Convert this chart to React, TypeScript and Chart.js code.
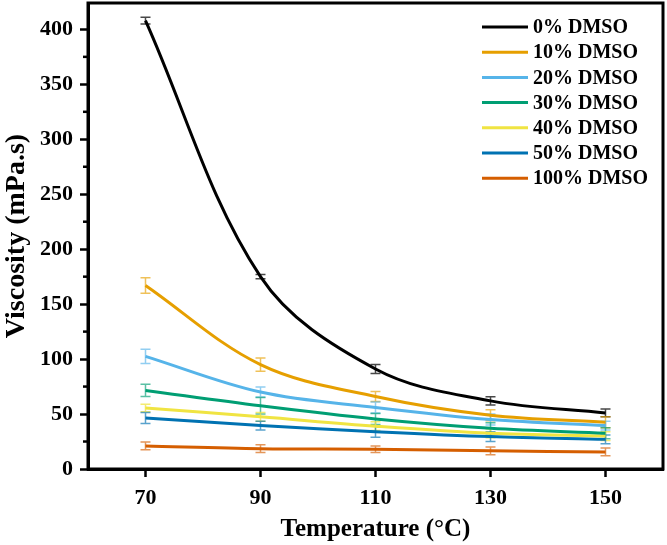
import { useEffect, useRef } from "react";
import { Chart, registerables } from "chart.js";

Chart.register(...registerables);

const temperatures = [70, 90, 110, 130, 150];
const xTicks = [70, 90, 110, 130, 150];
const yTicks = [0, 50, 100, 150, 200, 250, 300, 350, 400];
const yMinorTicks = [25, 75, 125, 175, 225, 275, 325, 375];

const seriesLabels = ["0% DMSO", "10% DMSO", "20% DMSO", "30% DMSO", "40% DMSO", "50% DMSO", "100% DMSO"];
const lineColors = ["#000000", "#E69F00", "#56B4E9", "#009E73", "#F0E442", "#0072B2", "#D55E00"];
const errorColors = [
  "rgba(40,40,40,0.85)",
  "rgba(230,159,0,0.65)",
  "rgba(86,180,233,0.65)",
  "rgba(0,158,115,0.65)",
  "rgba(240,228,66,0.75)",
  "rgba(0,114,178,0.65)",
  "rgba(213,94,0,0.65)",
];

const visc0 = [408, 175, 91, 62, 51];
const visc10 = [167, 95, 66, 49, 42.5];
const visc20 = [102.5, 70, 56, 45, 39.5];
const visc30 = [71.5, 57.5, 45.5, 37, 32.5];
const visc40 = [55.5, 47.5, 39, 32.5, 30];
const visc50 = [46.5, 39.5, 34, 29.5, 27];
const visc100 = [21, 18.5, 18, 16.5, 15.5];

const err0 = [3, 2, 4, 3.7, 3.5];
const err10 = [7, 6, 4.5, 5, 5];
const err20 = [6.5, 4.5, 5, 5, 4];
const err30 = [5.5, 7.5, 5, 5, 5];
const err40 = [3.5, 4, 4, 4, 4];
const err50 = [5, 4, 5, 4.5, 4];
const err100 = [3.5, 3.5, 3, 3.5, 3.5];

const seriesValues = [visc0, visc10, visc20, visc30, visc40, visc50, visc100];
const seriesErrors = [err0, err10, err20, err30, err40, err50, err100];

const FONT = "'Liberation Serif', 'Times New Roman', serif";

const errorBarPlugin = {
  id: "errorBars",
  beforeDatasetsDraw(chart: any) {
    const { ctx } = chart;
    const xs = chart.scales.x;
    const ys = chart.scales.y;
    ctx.save();
    ctx.lineWidth = 1.5;
    seriesValues.forEach((vals, i) => {
      ctx.strokeStyle = errorColors[i];
      vals.forEach((v, j) => {
        const e = seriesErrors[i][j];
        const x = xs.getPixelForValue(temperatures[j]);
        const yt = ys.getPixelForValue(v + e);
        const yb = ys.getPixelForValue(v - e);
        ctx.beginPath();
        ctx.moveTo(x, yt);
        ctx.lineTo(x, yb);
        ctx.moveTo(x - 5, yt);
        ctx.lineTo(x + 5, yt);
        ctx.moveTo(x - 5, yb);
        ctx.lineTo(x + 5, yb);
        ctx.stroke();
      });
    });
    ctx.restore();
  },
};

const framePlugin = {
  id: "frame",
  afterDraw(chart: any) {
    const { ctx, chartArea } = chart;
    const ys = chart.scales.y;
    ctx.save();
    ctx.strokeStyle = "#000";
    ctx.lineWidth = 3;
    ctx.strokeRect(chartArea.left, chartArea.top, chartArea.right - chartArea.left, chartArea.bottom - chartArea.top);
    // minor ticks on y
    ctx.lineWidth = 2.5;
    yMinorTicks.forEach((v) => {
      const y = ys.getPixelForValue(v);
      ctx.beginPath();
      ctx.moveTo(chartArea.left - 5, y);
      ctx.lineTo(chartArea.left, y);
      ctx.stroke();
    });
    // legend
    const lx = chartArea.right - 181;
    const ly0 = chartArea.top + 24;
    ctx.font = `bold 20px ${FONT}`;
    ctx.textBaseline = "middle";
    ctx.textAlign = "left";
    chart.data.datasets.forEach((ds: any, i: number) => {
      const y = ly0 + i * 25.2;
      ctx.strokeStyle = ds.borderColor;
      ctx.lineWidth = 3;
      ctx.beginPath();
      ctx.moveTo(lx, y);
      ctx.lineTo(lx + 46, y);
      ctx.stroke();
      ctx.fillStyle = "#000";
      ctx.fillText(ds.label, lx + 51, y + 1);
    });
    ctx.restore();
  },
};

const zeroPadding = (scale: any) => {
  scale.paddingTop = 0;
  scale.paddingBottom = 0;
  scale.paddingLeft = 0;
  scale.paddingRight = 0;
};

export default function App() {
  const ref = useRef<HTMLCanvasElement | null>(null);
  useEffect(() => {
    if (!ref.current) return;
    const chart = new Chart(ref.current, {
      type: "line",
      data: {
        datasets: seriesValues.map((vals, i) => ({
          label: seriesLabels[i],
          data: vals.map((v, j) => ({ x: temperatures[j], y: v })),
          borderColor: lineColors[i],
          backgroundColor: lineColors[i],
          borderWidth: 3,
          pointRadius: 0,
          tension: 0.35,
          fill: false,
        })),
      },
      plugins: [errorBarPlugin, framePlugin],
      options: {
        animation: false,
        responsive: false,
        devicePixelRatio: 1,
        layout: { padding: { top: 3, right: 4, left: 0, bottom: 0 } },
        plugins: { legend: { display: false }, tooltip: { enabled: false } },
        scales: {
          x: {
            type: "linear",
            min: 60,
            max: 160,
            afterBuildTicks: (scale: any) => {
              scale.ticks = xTicks.map((v) => ({ value: v }));
            },
            afterFit: (scale: any) => {
              scale.height = 76;
              zeroPadding(scale);
            },
            grid: { drawOnChartArea: false, drawTicks: true, tickLength: 8, tickWidth: 2.5, tickColor: "#000" },
            border: { display: true, width: 3, color: "#000" },
            ticks: { color: "#000", padding: 8, font: { family: FONT, size: 22, weight: "bold" }, maxRotation: 0 },
            title: {
              display: true,
              text: "Temperature (°C)",
              color: "#000",
              font: { family: FONT, size: 25, weight: "bold" },
              padding: { top: 0, bottom: 0 },
            },
          },
          y: {
            type: "linear",
            min: 0,
            max: 424,
            afterBuildTicks: (scale: any) => {
              scale.ticks = yTicks.map((v) => ({ value: v }));
            },
            afterFit: (scale: any) => {
              scale.width = 88;
              zeroPadding(scale);
            },
            grid: { drawOnChartArea: false, drawTicks: true, tickLength: 8, tickWidth: 2.5, tickColor: "#000" },
            border: { display: true, width: 3, color: "#000" },
            ticks: { color: "#000", padding: 7, font: { family: FONT, size: 22, weight: "bold" } },
            title: {
              display: true,
              text: "Viscosity (mPa.s)",
              color: "#000",
              font: { family: FONT, size: 28, weight: "bold" },
              padding: { top: 0, bottom: 0 },
            },
          },
        },
      },
    });
    return () => chart.destroy();
  }, []);
  return (
    <div style={{ position: "fixed", left: 0, top: 0, width: 667, height: 545, background: "#fff" }}>
      <canvas ref={ref} width={667} height={545} />
    </div>
  );
}
